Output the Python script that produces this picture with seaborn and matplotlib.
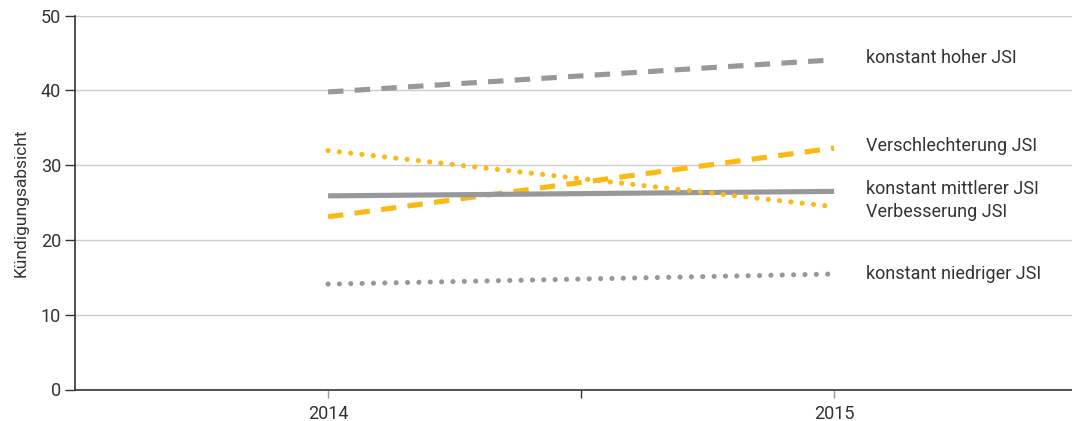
import matplotlib
matplotlib.use("Agg")
import matplotlib.pyplot as plt
from matplotlib.ticker import FixedLocator
import seaborn as sns
import pandas as pd

# Values per group at the two survey waves
years = [2014, 2015]
series_names = [
    "konstant hoher JSI",
    "Verschlechterung JSI",
    "konstant mittlerer JSI",
    "Verbesserung JSI",
    "konstant niedriger JSI",
]
hoch = [39.8, 44.1]
verschlechterung = [23.1, 32.3]
mittel = [25.9, 26.5]
verbesserung = [31.95, 24.45]
niedrig = [14.1, 15.45]
# vertical position of each end label (data units)
label_y = [44.3, 32.6, 26.8, 23.8, 15.4]

GREY = "#98989c"
YELLOW = "#fbb913"
TEXT = "#333333"

values = [hoch, verschlechterung, mittel, verbesserung, niedrig]
colors = [GREY, YELLOW, GREY, YELLOW, GREY]
styles = ["dash", "dash", "solid", "dot", "dot"]

df = pd.DataFrame(
    [(n, yr, v) for n, vals in zip(series_names, values) for yr, v in zip(years, vals)],
    columns=["Gruppe", "Jahr", "Wert"],
)

sns.set_style("white")
plt.rcParams["font.family"] = ["Roboto", "DejaVu Sans"]

fig = plt.figure(figsize=(10.72, 4.21), dpi=100)
ax = fig.add_axes([75 / 1072, 1 - 389.5 / 421, 1 - 75 / 1072, (389.5 - 15.7) / 421])

lw = 3.7
for name, col, st in zip(series_names, colors, styles):
    sub = df[df["Gruppe"] == name]
    sns.lineplot(data=sub, x="Jahr", y="Wert", ax=ax, color=col, legend=False)
    line = ax.lines[-1]
    line.set_linewidth(lw)
    if st == "dash":
        line.set_linestyle((0, (3.0, 2.2)))
        line.set_dash_capstyle("butt")
    elif st == "dot":
        line.set_linestyle((0, (0.01, 2.2)))
        line.set_dash_capstyle("round")
    else:
        line.set_linestyle("-")
        line.set_solid_capstyle("butt")

for name, yv in zip(series_names, label_y):
    ax.annotate(name, xy=(2015, yv), xytext=(23, 0), textcoords="offset points",
                va="center", ha="left", fontsize=13, color=TEXT)

ax.set_xlim(2013.5, 2015.47)
ax.set_ylim(0, 50)
ax.set_yticks([0, 10, 20, 30, 40, 50])
ax.set_xticks(years)
ax.set_xticklabels([str(y) for y in years])
ax.xaxis.set_minor_locator(FixedLocator([2014.5]))

ax.grid(axis="y", color="#cccccc", linewidth=1)
ax.grid(axis="x", visible=False)
ax.set_axisbelow(True)

for s in ["top", "right"]:
    ax.spines[s].set_visible(False)
for s in ["left", "bottom"]:
    ax.spines[s].set_color("#333333")
    ax.spines[s].set_linewidth(1.2)

ax.tick_params(axis="y", which="major", direction="out", length=7, width=1,
               color="#333333", labelsize=13, labelcolor=TEXT, pad=3, left=True)
ax.tick_params(axis="x", which="major", direction="out", length=6, width=1,
               color="#999999", labelsize=13, labelcolor=TEXT, pad=5, bottom=True)
ax.tick_params(axis="x", which="minor", direction="out", length=6, width=1,
               color="#333333", bottom=True)

ax.set_xlabel("")
ax.set_ylabel("Kündigungsabsicht", fontsize=12.5, color=TEXT, labelpad=9)

fig.savefig("out.png", dpi=100)
